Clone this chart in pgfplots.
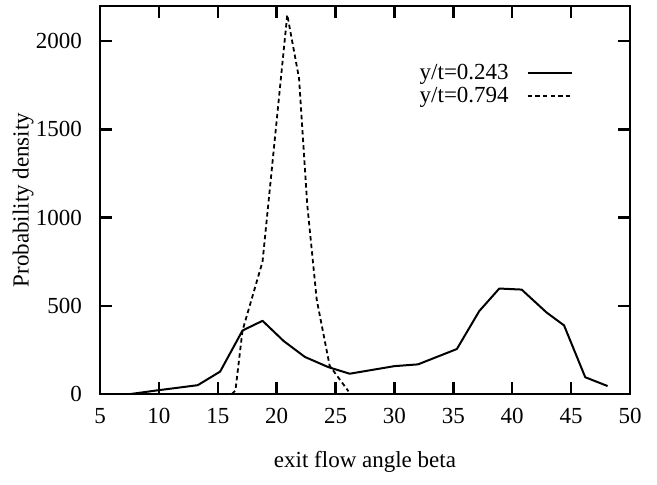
\documentclass[border=0pt]{standalone}
\usepackage{pgfplots}
\pgfplotsset{compat=1.18}
\usepackage{fontspec}
\setmainfont{Liberation Serif}
\begin{document}
\fontsize{11.5pt}{13pt}\selectfont
\begin{tikzpicture}
\begin{axis}[
  scale only axis,
  width=265pt, height=194pt,
  xmin=5, xmax=50, ymin=0, ymax=2200,
  xtick={5,10,...,50},
  ytick={0,500,1000,1500,2000},
  tick align=inside,
  major tick length=6pt,
  axis line style={line width=1.2pt},
  every tick/.style={black, line width=1.2pt},
  /pgf/number format/assume math mode=true,
  /pgf/number format/1000 sep={},
  tick label style={font=\fontsize{11.5pt}{13pt}\selectfont},
  xticklabel style={yshift=-3pt},
  yticklabel style={xshift=-5pt},
  xlabel={exit flow angle beta},
  ylabel={Probability density},
  label style={font=\fontsize{11.5pt}{13pt}\selectfont},
  xlabel style={at={(axis description cs:0.5,-0.175)}, anchor=center},
  ylabel style={at={(axis description cs:-0.145,0.5)}, anchor=center},
  legend style={at={(axis description cs:0.904,0.872)}, anchor=north east, draw=none, fill=none,
    font=\fontsize{11.5pt}{13pt}\selectfont, row sep=-2pt, column sep=7pt},
  legend image code/.code={\draw[#1] (0pt,0pt) -- (22pt,0pt);},
  legend plot pos=right,
  legend cell align=left,
  clip=false,
]
\addplot[black, line width=1pt, line join=round] coordinates {
(7.6,0) (9.8,20) (13.3,50) (15.2,127) (17.1,360) (18.8,415) (20.6,300)
(22.4,210) (24.4,152) (26.2,115) (30,158) (32,168) (35.3,255) (37.2,470)
(38.9,598) (40.8,592) (42.9,463) (44.4,389) (46.2,95) (48.1,45)
};
\addlegendentry{y/t=0.243}
\addplot[black, line width=0.9pt, dash pattern=on 2.2pt off 1.6pt] coordinates {
(16.2,0) (16.5,20) (17.1,360) (18.8,750) (20.9,2150) (21.9,1790) (22.6,1070)
(23.4,535) (24.5,160) (26.1,15)
};
\addlegendentry{y/t=0.794}
\end{axis}
\path (current axis.south west) ++(-50pt,-45.5pt) rectangle ++(328.5pt,242.5pt);
\end{tikzpicture}
\end{document}
